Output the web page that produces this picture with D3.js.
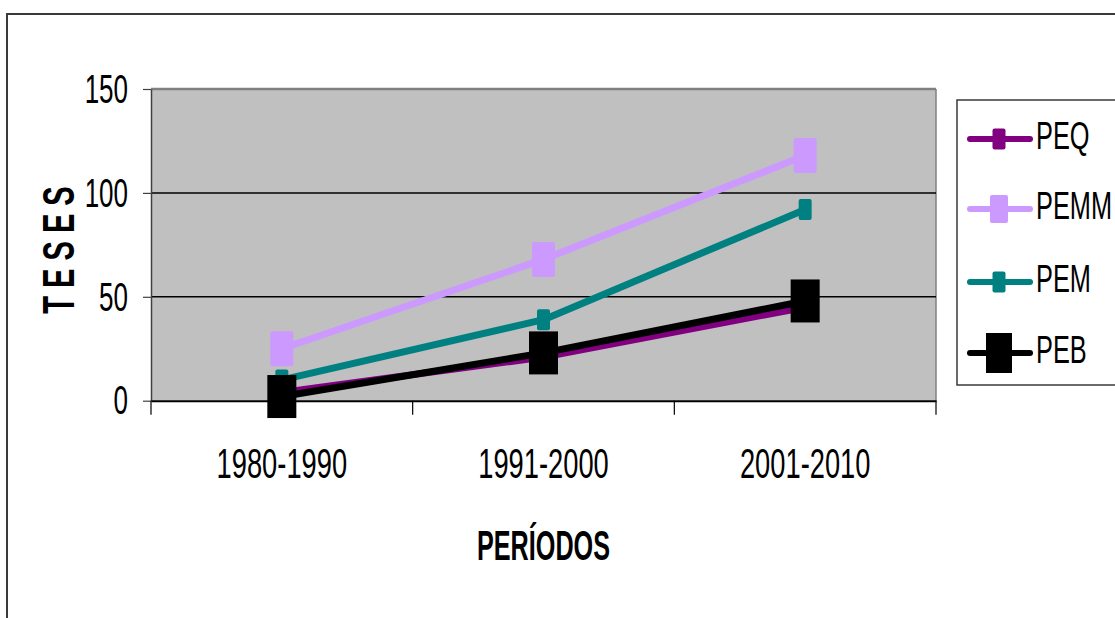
<!DOCTYPE html>
<html>
<head>
<meta charset="utf-8">
<script src="https://cdn.jsdelivr.net/npm/d3@7"></script>
<style>
  html, body { margin: 0; padding: 0; background: #ffffff; }
  svg { display: block; }
  text { fill: #000; }
</style>
</head>
<body>
<svg id="chart" width="1115" height="618"></svg>
<script>
// Periods on the category axis
const periods = ["1980-1990", "1991-2000", "2001-2010"];
// Series names, colours and values (number of theses per period)
const seriesNames = ["PEQ", "PEMM", "PEM", "PEB"];
const seriesColors = ["#800080", "#cc99ff", "#008080", "#000000"];
const PEQ  = [4, 21, 45];
const PEMM = [25, 68, 118];
const PEM  = [10, 39, 92];
const PEB  = [2, 23, 48];
const seriesValues = [PEQ, PEMM, PEM, PEB];
// Value axis ticks
const yTicks = [0, 50, 100, 150];

// Marker sizes (width, height) per series
const markerSize = [[13, 21], [23, 35], [13, 21], [29, 43]];
const legendMarkerSize = [[13, 21], [18, 28], [13, 21], [26, 40]];

// Condensed lettering: prefer a narrow face, otherwise squeeze the regular one
const ctx = document.createElement("canvas").getContext("2d");
function widthIn(family) { ctx.font = `40px ${family}`; return ctx.measureText("1980-1990 PEMM").width; }
const wRegular = widthIn("'Liberation Sans', Arial, sans-serif");
const wNarrow = widthIn("'Liberation Sans Narrow', 'Liberation Sans', Arial, sans-serif");
const narrowRatio = wNarrow / wRegular;
const useNarrow = narrowRatio < 0.92;
const FONT = useNarrow ? "'Liberation Sans Narrow', 'Liberation Sans', Arial, sans-serif"
                       : "'Liberation Sans', Arial, sans-serif";
const SX = useNarrow ? 0.65 / narrowRatio : 0.65;
const SXB = useNarrow ? 0.6 / narrowRatio : 0.6;

const svg = d3.select("#chart");
const plot = { left: 151, right: 936, top: 89, bottom: 400.7 };

const x = d3.scaleBand().domain(periods).range([plot.left, plot.right]);
const y = d3.scaleLinear().domain([0, 150]).range([plot.bottom, plot.top]);
const cx = d => x(d) + x.bandwidth() / 2;

// Outer chart frame
svg.append("rect")
  .attr("x", 7).attr("y", 14)
  .attr("width", 1200).attr("height", 700)
  .attr("fill", "#fff").attr("stroke", "#3a3a3a").attr("stroke-width", 2);

// Plot area background
svg.append("rect")
  .attr("x", plot.left).attr("y", plot.top)
  .attr("width", plot.right - plot.left).attr("height", plot.bottom - plot.top)
  .attr("fill", "#c0c0c0");

// Top and right edges of the plot area
svg.append("line")
  .attr("x1", plot.left).attr("x2", plot.right)
  .attr("y1", plot.top).attr("y2", plot.top)
  .attr("stroke", "#808080").attr("stroke-width", 2.5);
svg.append("line")
  .attr("x1", plot.right).attr("x2", plot.right)
  .attr("y1", plot.top).attr("y2", plot.bottom)
  .attr("stroke", "#808080").attr("stroke-width", 1.5);

// Horizontal gridlines
svg.append("g").selectAll("line")
  .data(yTicks.filter(t => t > 0 && t < 150))
  .join("line")
  .attr("x1", plot.left).attr("x2", plot.right)
  .attr("y1", d => y(d)).attr("y2", d => y(d))
  .attr("stroke", "#000").attr("stroke-width", 1.5);

// Value axis
const yAxis = svg.append("g")
  .attr("transform", `translate(${plot.left},0)`)
  .call(d3.axisLeft(y).tickValues(yTicks).tickSize(8).tickSizeOuter(0));
yAxis.select(".domain").attr("stroke", "#404040").attr("stroke-width", 1.5);
yAxis.selectAll(".tick line").attr("stroke", "#404040").attr("stroke-width", 1.2);
yAxis.selectAll(".tick text")
  .attr("x", -23 / SX).attr("dy", "0.33em")
  .attr("transform", `scale(${SX},1)`)
  .style("font-size", "40px").style("font-family", FONT);

// Category axis: labels at band centres, ticks on band boundaries
const xAxis = svg.append("g")
  .attr("transform", `translate(0,${plot.bottom})`)
  .call(d3.axisBottom(x).tickSize(0).tickSizeOuter(0));
xAxis.select(".domain").attr("stroke", "#000").attr("stroke-width", 2);
xAxis.selectAll(".tick text")
  .attr("y", 0).attr("dy", 0)
  .attr("transform", `translate(0,77.5) scale(${SX},1)`)
  .style("font-size", "42px").style("font-family", FONT);
const boundaries = periods.map(p => x(p)).concat([x(periods[periods.length - 1]) + x.bandwidth()]);
svg.append("g").selectAll("line")
  .data(boundaries)
  .join("line")
  .attr("x1", d => d).attr("x2", d => d)
  .attr("y1", plot.bottom).attr("y2", plot.bottom + 14)
  .attr("stroke", "#000").attr("stroke-width", 1.2);

// Axis titles
svg.append("text")
  .attr("transform", `translate(${cx(periods[1])},560) scale(${SXB},1)`)
  .attr("text-anchor", "middle")
  .style("font-family", FONT)
  .style("font-size", "42px").style("font-weight", "bold")
  .text("PERÍODOS");
svg.append("text")
  .attr("transform", "translate(74,250) rotate(-90) scale(0.66,1)")
  .attr("text-anchor", "middle")
  .style("font-family", "'Liberation Sans', Arial, sans-serif")
  .style("font-size", "44px").style("font-weight", "bold")
  .text("T E S E S");

// Series lines and markers
const line = d3.line().x((d, i) => cx(periods[i])).y(d => y(d));
seriesNames.forEach((name, s) => {
  const g = svg.append("g").attr("class", "series-" + name);
  g.append("path")
    .datum(seriesValues[s])
    .attr("d", line)
    .attr("fill", "none")
    .attr("stroke", seriesColors[s])
    .attr("stroke-width", 7)
    .attr("stroke-linejoin", "round");
  const [mw, mh] = markerSize[s];
  g.selectAll("rect")
    .data(seriesValues[s])
    .join("rect")
    .attr("x", (d, i) => cx(periods[i]) - mw / 2)
    .attr("y", d => y(d) - mh / 2)
    .attr("width", mw).attr("height", mh)
    .attr("rx", s === 3 ? 0 : 2)
    .attr("fill", seriesColors[s]);
});

// Legend
const legend = svg.append("g");
legend.append("rect")
  .attr("x", 957).attr("y", 100)
  .attr("width", 300).attr("height", 285)
  .attr("fill", "#fff").attr("stroke", "#3a3a3a").attr("stroke-width", 1.5);
const legendRows = [139, 209, 282, 353];
seriesNames.forEach((name, s) => {
  const ry = legendRows[s];
  legend.append("line")
    .attr("x1", 970).attr("x2", 1030)
    .attr("y1", ry).attr("y2", ry)
    .attr("stroke", seriesColors[s]).attr("stroke-width", 6)
    .attr("stroke-linecap", "round");
  const [mw, mh] = legendMarkerSize[s];
  legend.append("rect")
    .attr("x", 999 - mw / 2).attr("y", ry - mh / 2)
    .attr("width", mw).attr("height", mh)
    .attr("rx", s === 3 ? 0 : 2)
    .attr("fill", seriesColors[s]);
  legend.append("text")
    .attr("transform", `translate(1036,${ry + 10}) scale(${SX},1)`)
    .style("font-family", FONT)
    .style("font-size", "39px")
    .text(name);
});
</script>
</body>
</html>
